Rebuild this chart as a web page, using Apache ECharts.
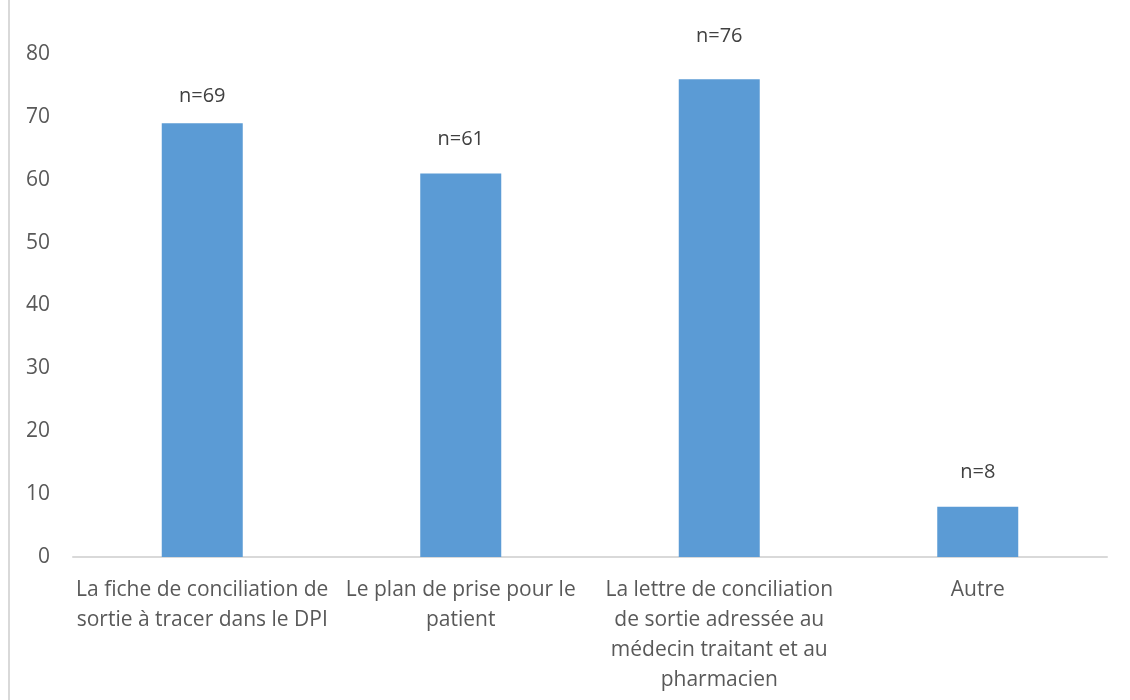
<!DOCTYPE html>
<html><head><meta charset="utf-8">
<script src="https://cdn.jsdelivr.net/npm/echarts@6/dist/echarts.min.js"></script>
<style>html,body{margin:0;padding:0;background:#fff}#c{width:1130px;height:700px}</style>
</head><body><div id="c"></div>
<script>
const categories = [
  "La fiche de conciliation de\nsortie à tracer dans le DPI",
  "Le plan de prise pour le\npatient",
  "La lettre de conciliation\nde sortie adressée au\nmédecin traitant et au\npharmacien",
  "Autre"
];
const values = [69, 61, 76, 8];
const dataLabels = ["n=69", "n=61", "n=76", "n=8"];
const yMin = 0, yMax = 80, yStep = 10;

// label placement (style only)
const labelGap = [17, 24, 33, 24];

const chart = echarts.init(document.getElementById('c'));
chart.setOption({
  animation: false,
  backgroundColor: '#fff',
  grid: {left: 73, right: 23, top: 54, bottom: 143, containLabel: false},
  graphic: [{type: 'rect', shape: {x: 8, y: 0, width: 2, height: 700}, style: {fill: '#d9d9d9'}}],
  xAxis: {
    type: 'category', data: categories,
    axisLine: {lineStyle: {color: '#d9d9d9', width: 2}},
    axisTick: {show: false},
    axisLabel: {color: '#595959', fontSize: 21, fontFamily: 'Open Sans', lineHeight: 30, margin: 18, interval: 0}
  },
  yAxis: {
    type: 'value', min: yMin, max: yMax, interval: yStep,
    splitLine: {show: false}, axisLine: {show: false}, axisTick: {show: false},
    axisLabel: {color: '#595959', fontSize: 21, fontFamily: 'Open Sans', margin: 23}
  },
  series: [{
    type: 'bar',
    data: values.map((v, i) => ({value: v, label: {distance: labelGap[i]}})),
    barWidth: 81,
    itemStyle: {color: '#5B9BD5'},
    label: {show: true, position: 'top', color: '#404040', fontSize: 20, fontFamily: 'Open Sans',
      formatter: p => dataLabels[p.dataIndex]}
  }]
});
</script></body></html>
